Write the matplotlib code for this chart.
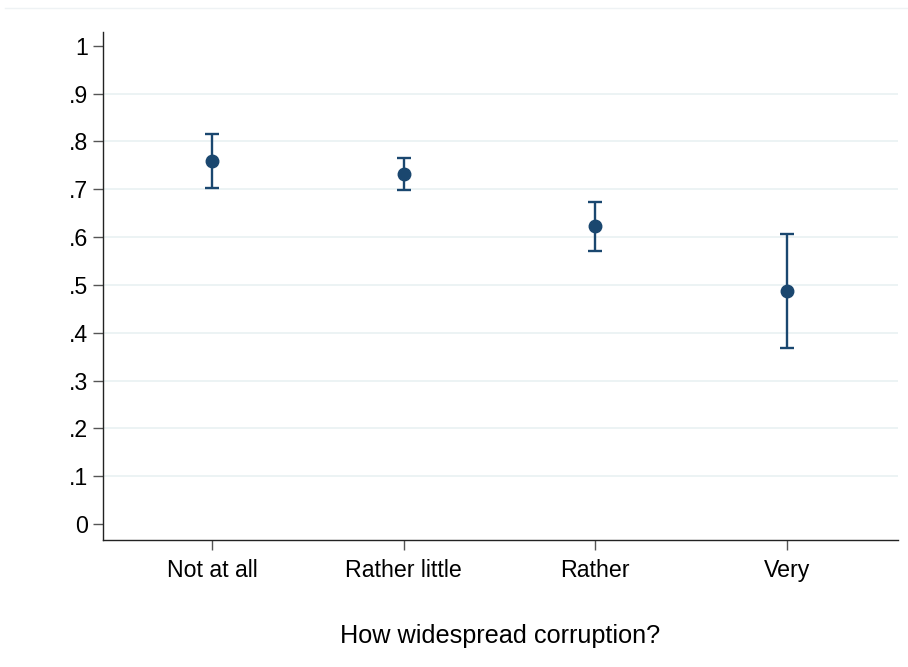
import matplotlib
matplotlib.use("Agg")
import matplotlib.pyplot as plt
from matplotlib.lines import Line2D
import numpy as np

plt.rcParams['font.family'] = ['Liberation Sans', 'DejaVu Sans']

categories = ["Not at all", "Rather little", "Rather", "Very"]
means = [0.759, 0.733, 0.623, 0.488]
ci_low = [0.702, 0.699, 0.571, 0.369]
ci_high = [0.816, 0.766, 0.673, 0.606]
yticks = [0, 0.1, 0.2, 0.3, 0.4, 0.5, 0.6, 0.7, 0.8, 0.9, 1.0]
ytick_labels = ["0", ".1", ".2", ".3", ".4", ".5", ".6", ".7", ".8", ".9", "1"]

navy = "#1a476f"

fig = plt.figure(figsize=(9.08, 6.67), dpi=100)
ax = fig.add_axes([103/908, 1 - 539.7/667, 795/908, (539.7-32)/667])

x = np.arange(1, len(categories) + 1)
m = np.array(means)
lo = np.array(ci_low)
hi = np.array(ci_high)

for g in yticks[1:-1]:
    ax.axhline(g, color="#eaf2f3", lw=1.3, zorder=0)

ax.errorbar(x, m, yerr=[m - lo, hi - m], fmt="o", color=navy, ecolor=navy,
            elinewidth=1.7, capsize=5, capthick=1.7, markersize=9, zorder=3)

ax.set_xlim(0.431, 4.579)
ax.set_ylim(-0.0328, 1.029)
ax.set_yticks(yticks)
ax.set_yticklabels(ytick_labels)
ax.set_xticks(x)
ax.set_xticklabels(categories)

for s in ["top", "right"]:
    ax.spines[s].set_visible(False)
for s in ["left", "bottom"]:
    ax.spines[s].set_color("#222222")
    ax.spines[s].set_linewidth(1.0)

ax.tick_params(axis="both", direction="out", length=7, width=1.0, color="#555555",
               labelsize=16.7, labelcolor="black", pad=4)
ax.tick_params(axis="x", pad=7)

ax.set_xlabel("How widespread corruption?", fontsize=18.2, labelpad=30)

fig.add_artist(Line2D([5/908, 1], [1 - 8/667, 1 - 8/667], transform=fig.transFigure,
                      color="#eef2f4", lw=1.0))

fig.savefig("out.png", dpi=100)
